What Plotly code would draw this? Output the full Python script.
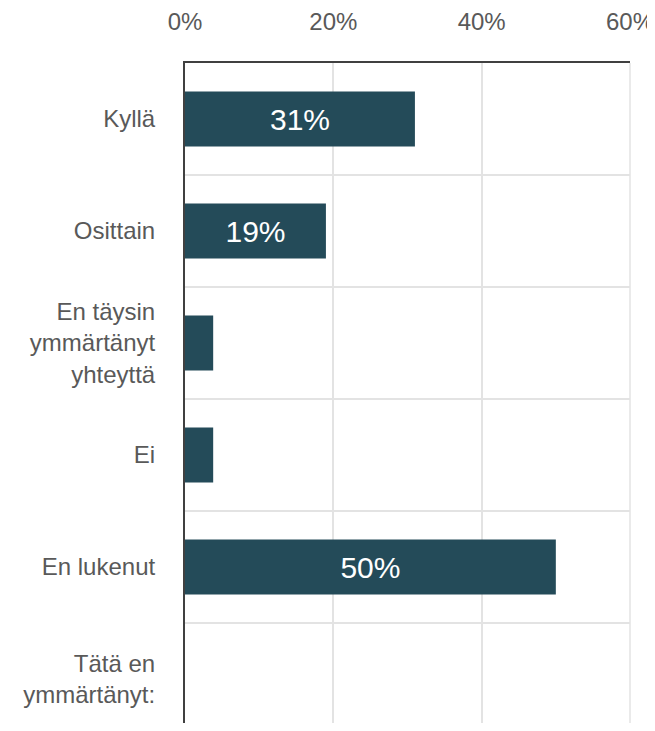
import plotly.graph_objects as go

categories = [
    "Kyllä",
    "Osittain",
    "En täysin<br>ymmärtänyt<br>yhteyttä",
    "Ei",
    "En lukenut",
    "Tätä en<br>ymmärtänyt:",
]
values = [31, 19, 3.8, 3.8, 50, 0]
x_ticks = [0, 20, 40, 60]
x_tick_labels = ["0%", "20%", "40%", "60%"]

bar_color = "#244B59"
text_grey = "#595959"
grid_grey = "#E3E3E3"
font_family = "Liberation Sans, Arial, sans-serif"

labels = [f"{v:.0f}%" if v >= 10 else "" for v in values]

fig = go.Figure(
    go.Bar(
        x=values,
        y=categories,
        orientation="h",
        marker=dict(color=bar_color, line=dict(width=0)),
        width=0.49,
        text=labels,
        textposition="inside",
        insidetextanchor="middle",
        textangle=0,
        constraintext="none",
        textfont=dict(color="white", size=30, family=font_family),
        hoverinfo="skip",
    )
)

# page body has an 8px default margin; compensate so the page does not overflow
fig.update_layout(
    width=647,
    height=715,
    margin=dict(l=177, r=25, t=55, b=0, pad=0),
    plot_bgcolor="white",
    paper_bgcolor="white",
    showlegend=False,
    font=dict(family=font_family, color=text_grey, size=24),
)
# right-edge grid line of the plot frame
fig.add_shape(type="line", xref="paper", yref="paper", x0=1, x1=1, y0=0, y1=1,
              line=dict(color=grid_grey, width=1.5), layer="below")
fig.update_xaxes(
    side="top",
    range=[0, 60],
    tickvals=x_ticks,
    ticktext=x_tick_labels,
    showgrid=True,
    gridcolor=grid_grey,
    gridwidth=1.5,
    zeroline=False,
    showline=True,
    linecolor="#404040",
    linewidth=2,
    ticks="outside",
    ticklen=21,
    tickcolor="rgba(0,0,0,0)",
    tickfont=dict(size=24, color=text_grey),
    ticklabeloverflow="allow",
    fixedrange=True,
)
fig.update_yaxes(
    type="category",
    categoryorder="array",
    categoryarray=categories,
    range=[-0.5 + 660 / 112, -0.5],
    tickson="boundaries",
    showgrid=True,
    gridcolor=grid_grey,
    gridwidth=1.5,
    zeroline=False,
    showline=True,
    linecolor="#404040",
    linewidth=2,
    ticks="",
    ticklabelstandoff=23,
    tickfont=dict(size=24, color=text_grey),
    fixedrange=True,
)

fig.write_html("out.html", config={"displayModeBar": False})
